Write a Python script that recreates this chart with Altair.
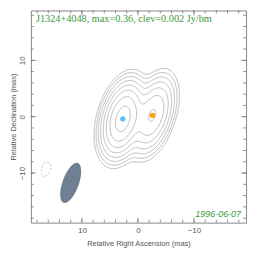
import numpy as np
import pandas as pd
import altair as alt
from collections import defaultdict

# ---- data ----
title_text = "J1324+4048, max=0.36, clev=0.002 Jy/bm"
date_text = "1996-06-07"

# model components (RA offset mas, Dec offset mas, peak Jy/beam,
# restored FWHM major / minor mas, position angle deg)
comp_x = [2.7, -2.6, 16.4]
comp_y = [-0.4, 0.25, -9.3]
comp_peak = [0.36, 0.136, -0.0026]
comp_major = [6.6, 7.0, 4.2]
comp_minor = [3.45, 3.4, 2.6]
comp_pa = [-15.0, -18.0, -20.0]

# restoring beam (drawn)
beam_x = [12.0]
beam_y = [-11.75]
beam_major = 7.5
beam_minor = 2.9
beam_pa = -20.0

# contour levels (Jy/beam)
neg_levels = [-0.002]
pos_levels = [0.002, 0.004, 0.008, 0.016, 0.032, 0.064, 0.128, 0.256]

# feature markers
mark_x = [2.7, -2.6]
mark_y = [-0.4, 0.25]
mark_col = ["#62bdf7", "#ffa200"]

x_major = [10, 0, -10]
y_major = [10, 0, -10]
minor_ticks = list(range(-18, 19, 2))

x_dom = [19.1, -19.3]
y_dom = [-18.8, 18.85]

W, H = 216, 213

# ---- image from components ----
xs = np.arange(-19.5, 19.51, 0.12)
ys = np.arange(-19.5, 19.51, 0.12)
XX, YY = np.meshgrid(xs, ys)
Z = np.zeros_like(XX)
for cx, cy, pk, fa, fb, pa in zip(comp_x, comp_y, comp_peak, comp_major, comp_minor, comp_pa):
    ph = np.radians(pa)
    sa, sb = fa / 2.3548, fb / 2.3548
    dx = XX - cx
    dy = YY - cy
    u = dx * np.sin(ph) + dy * np.cos(ph)
    v = dx * np.cos(ph) - dy * np.sin(ph)
    Z += pk * np.exp(-0.5 * ((u / sa) ** 2 + (v / sb) ** 2))


def march(Z, xs, ys, lev):
    above = Z > lev
    c0 = above[:-1, :-1].astype(int)
    s = c0 + above[:-1, 1:] + above[1:, 1:] + above[1:, :-1]
    js, iis = np.nonzero((s > 0) & (s < 4))

    def pt(edge):
        kind, j, i = edge
        if kind == 'h':
            z1, z2 = Z[j, i], Z[j, i + 1]
            t = (lev - z1) / (z2 - z1)
            return (xs[i] + t * (xs[i + 1] - xs[i]), ys[j])
        z1, z2 = Z[j, i], Z[j + 1, i]
        t = (lev - z1) / (z2 - z1)
        return (xs[i], ys[j] + t * (ys[j + 1] - ys[j]))

    segs = []
    for j, i in zip(js, iis):
        a0, a1, a2, a3 = above[j, i], above[j, i + 1], above[j + 1, i + 1], above[j + 1, i]
        e0 = ('h', j, i)
        e1 = ('v', j, i + 1)
        e2 = ('h', j + 1, i)
        e3 = ('v', j, i)
        cr = [(a0 != a1, e0), (a1 != a2, e1), (a3 != a2, e2), (a0 != a3, e3)]
        ce = [e for f, e in cr if f]
        if len(ce) == 2:
            segs.append((ce[0], ce[1]))
        elif len(ce) == 4:
            cen = (Z[j, i] + Z[j, i + 1] + Z[j + 1, i + 1] + Z[j + 1, i]) / 4 > lev
            if cen == a0:
                segs += [(e0, e1), (e2, e3)]
            else:
                segs += [(e3, e0), (e1, e2)]
    adj = defaultdict(list)
    for k, (a, b) in enumerate(segs):
        adj[a].append(k)
        adj[b].append(k)
    used = [False] * len(segs)
    paths = []
    for k in range(len(segs)):
        if used[k]:
            continue
        used[k] = True
        path = [segs[k][0], segs[k][1]]
        for end in (1, 0):
            while True:
                cur = path[-1] if end else path[0]
                nxt = [m for m in adj[cur] if not used[m]]
                if not nxt:
                    break
                m = nxt[0]
                used[m] = True
                a, b = segs[m]
                new = b if a == cur else a
                if end:
                    path.append(new)
                else:
                    path.insert(0, new)
        paths.append([pt(e) for e in path])
    return paths


def contour_df(levels):
    rows = []
    cid = 0
    for lev in levels:
        for p in march(Z, xs, ys, lev):
            for k, (px, py) in enumerate(p):
                rows.append({"cid": cid, "k": k, "x": px, "y": py})
            cid += 1
    return pd.DataFrame(rows)


pos_df = contour_df(pos_levels)
neg_df = contour_df(neg_levels)

# beam ellipse as vertical spans
phi = np.radians(beam_pa)
a = beam_major / 2
b = beam_minor / 2
A = np.cos(phi) ** 2 / a ** 2 + np.sin(phi) ** 2 / b ** 2
xmax = np.sqrt(a ** 2 * np.sin(phi) ** 2 + b ** 2 * np.cos(phi) ** 2)
tt = np.linspace(0, np.pi, 120)
bx = xmax * np.cos(tt) * 0.99999
Bc = 2 * bx * np.sin(phi) * np.cos(phi) * (1 / a ** 2 - 1 / b ** 2)
Cc = bx ** 2 * (np.sin(phi) ** 2 / a ** 2 + np.cos(phi) ** 2 / b ** 2) - 1
disc = np.sqrt(np.maximum(Bc ** 2 - 4 * A * Cc, 0))
beam_df = pd.DataFrame({
    "x": bx + beam_x[0],
    "y1": (-Bc - disc) / (2 * A) + beam_y[0],
    "y2": (-Bc + disc) / (2 * A) + beam_y[0],
})

xs_scale = alt.Scale(domain=x_dom, nice=False, zero=False)
ys_scale = alt.Scale(domain=y_dom, nice=False, zero=False)

AX_COL = "#555555"
FONT = "Liberation Sans"

x_axis = alt.Axis(values=x_major, ticks=False, domain=False, grid=False,
                  labelFontSize=8, labelColor=AX_COL, labelFont=FONT, labelPadding=4,
                  title="Relative Right Ascension (mas)", titleFont=FONT,
                  titleFontSize=7.5, titleFontWeight="normal", titleColor=AX_COL,
                  titlePadding=5)
y_axis = alt.Axis(values=y_major, ticks=False, domain=False, grid=False,
                  labelFontSize=8, labelColor=AX_COL, labelFont=FONT, labelPadding=4,
                  labelAngle=270, labelAlign="center", labelBaseline="bottom",
                  title="Relative Declination (mas)", titleFont=FONT,
                  titleFontSize=7.5, titleFontWeight="normal", titleColor=AX_COL,
                  titlePadding=1)

base_pos = alt.Chart(pos_df).mark_line(color="#aaaaaa", strokeWidth=0.8, clip=True).encode(
    x=alt.X("x:Q", scale=xs_scale, axis=x_axis),
    y=alt.Y("y:Q", scale=ys_scale, axis=y_axis),
    detail="cid:N",
    order="k:Q",
)
neg_layer = alt.Chart(neg_df).mark_line(color="#aaaaaa", strokeWidth=0.8, strokeDash=[2, 2], clip=True).encode(
    x=alt.X("x:Q", scale=xs_scale), y=alt.Y("y:Q", scale=ys_scale), detail="cid:N", order="k:Q")

beam_layer = alt.Chart(beam_df).mark_area(color="#6f8092", opacity=1, clip=True).encode(
    x=alt.X("x:Q", scale=xs_scale), y=alt.Y("y1:Q", scale=ys_scale), y2="y2:Q")

pts_layer = alt.Chart(pd.DataFrame({"x": mark_x, "y": mark_y, "c": mark_col})).mark_circle(
    size=28, opacity=1).encode(
    x=alt.X("x:Q", scale=xs_scale), y=alt.Y("y:Q", scale=ys_scale),
    color=alt.Color("c:N", scale=None))

TICK = "#777777"
mt = pd.DataFrame({"v": minor_ticks})
Mt = pd.DataFrame({"v": x_major})
tick_layers = []
for df, ln in ((mt, 3), (Mt, 5)):
    tick_layers += [
        alt.Chart(df).mark_rule(color=TICK, strokeWidth=0.8).encode(
            x=alt.X("v:Q", scale=xs_scale), y=alt.value(H), y2=alt.value(H - ln)),
        alt.Chart(df).mark_rule(color=TICK, strokeWidth=0.8).encode(
            x=alt.X("v:Q", scale=xs_scale), y=alt.value(0), y2=alt.value(ln)),
        alt.Chart(df).mark_rule(color=TICK, strokeWidth=0.8).encode(
            y=alt.Y("v:Q", scale=ys_scale), x=alt.value(0), x2=alt.value(ln)),
        alt.Chart(df).mark_rule(color=TICK, strokeWidth=0.8).encode(
            y=alt.Y("v:Q", scale=ys_scale), x=alt.value(W), x2=alt.value(W - ln)),
    ]

title_layer = alt.Chart(pd.DataFrame({"t": [title_text]})).mark_text(
    align="left", baseline="alphabetic", font="Liberation Serif", fontSize=10.3,
    color="#3b9a3b").encode(text="t:N", x=alt.value(5), y=alt.value(12))
date_layer = alt.Chart(pd.DataFrame({"t": [date_text]})).mark_text(
    align="right", baseline="alphabetic", font=FONT, fontSize=9, fontStyle="italic",
    color="#3b9a3b").encode(text="t:N", x=alt.value(211), y=alt.value(207))

chart = alt.layer(
    base_pos, neg_layer, beam_layer, pts_layer, *tick_layers, title_layer, date_layer
).properties(
    width=W, height=H,
    autosize=alt.AutoSizeParams(type="none"),
    padding={"left": 23, "top": 2, "right": 10, "bottom": 30},
    background="white",
).configure_view(stroke="#888888", strokeWidth=1)

chart.save("out.html", embed_options={"renderer": "svg", "actions": False})
